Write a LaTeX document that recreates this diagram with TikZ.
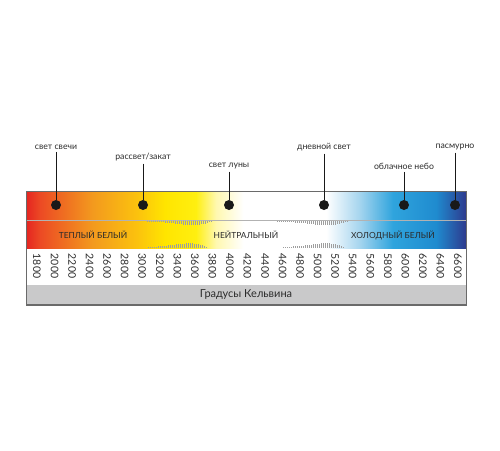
\documentclass[tikz,border=0pt]{standalone}
\usepackage{fontspec}
\setmainfont{Lato}
\definecolor{k1}{HTML}{E52421}
\definecolor{k2}{HTML}{EC4A24}
\definecolor{k3}{HTML}{F39A1E}
\definecolor{k4}{HTML}{FBC10E}
\definecolor{k5}{HTML}{FFE500}
\definecolor{k6}{HTML}{FFEF10}
\definecolor{k7}{HTML}{FFF8B0}
\definecolor{k8}{HTML}{FFFFFF}
\definecolor{k9}{HTML}{A8D6EF}
\definecolor{k10}{HTML}{2FA4DD}
\definecolor{k11}{HTML}{1F8BCF}
\definecolor{k12}{HTML}{2E3A8E}
\definecolor{txt}{HTML}{2B2B2B}
\definecolor{band}{HTML}{C9C9CA}
\definecolor{frame}{HTML}{6A6A6A}
\pgfdeclarehorizontalshading{kelvin}{100bp}{color(0bp)=(k1); color(25bp)=(k1); color(26.6bp)=(k2); color(32.6bp)=(k3); color(37.5bp)=(k4); color(40.8bp)=(k5); color(44.3bp)=(k6); color(46.6bp)=(k7); color(49.7bp)=(k8); color(59.1bp)=(k8); color(62.8bp)=(k9); color(66.7bp)=(k10); color(71.6bp)=(k11); color(75bp)=(k12); color(100bp)=(k12)}
\begin{document}
\begin{tikzpicture}[x=1pt,y=-1pt,
  lbl/.style={font=\fontsize{8.7}{9}\selectfont, text=txt, inner sep=2.5pt},
  dotm/.style={circle, fill=black!90, minimum size=10pt, inner sep=0pt},
  conn/.style={draw=black!90, line width=0.8pt},
  zone/.style={font=\fontsize{8.4}{9}\selectfont, text=txt, inner sep=1pt},
  num/.style={font=\fontsize{10.5}{11}\selectfont, text=txt, rotate=-90, inner sep=0pt},
  tick/.style={draw=black!38, line width=0.35pt}]
\useasboundingbox (0,0) rectangle (500,450);
% gradient bar
\shade[shading=kelvin] (26,191) rectangle (466,248);
\draw[black!30, line width=0.5pt] (26,220) -- (466,220);
% hatch ticks
\foreach \a/\b/\y/\s in {147/212/221/1, 148/207/247.5/-1, 277/347/221/1, 283/343/247.5/-1}{
  \pgfmathtruncatemacro\nn{(\b-\a)/2}
  \foreach \k in {0,...,\nn}{
    \pgfmathsetmacro\tt{\k/\nn}
    \pgfmathsetmacro\xx{\a+2*\k}
    \pgfmathsetmacro\ll{\s*(0.8+3.4*sin(180*\tt*\tt))}
    \draw[tick] (\xx,\y) -- ++(0,\ll);}}
% zone names
\node[zone] (z1) at (93,235) {ТЕПЛЫЙ БЕЛЫЙ};
\node[zone] (z2) at (246,235) {НЕЙТРАЛЬНЫЙ};
\node[zone] (z3) at (393,235) {ХОЛОДНЫЙ БЕЛЫЙ};
% grey band
\fill[band] (26,285) rectangle (466,304);
\node[font=\fontsize{11}{12}\selectfont, text=txt] (deg) at (246,294.5) {Градусы Кельвина};
% frame
\draw[frame, line width=0.8pt] (26,191) rectangle (466,305);
\draw[frame, line width=1.6pt] (26,304.5) -- (466,304.5);
% numbers
\foreach \i in {0,...,24}{
  \pgfmathtruncatemacro\vv{1800+200*\i}
  \pgfmathsetmacro\xx{37+17.54*\i}
  \node[num] (n\i) at (\xx,266) {\vv};}
% labels, dots, connectors
\node[lbl] (l1) at (56,147) {свет свечи};
\node[lbl] (l2) at (143,157) {рассвет/закат};
\node[lbl] (l3) at (229,166) {свет луны};
\node[lbl] (l4) at (324,147) {дневной свет};
\node[lbl] (l5) at (404,166) {облачное небо};
\node[lbl] (l6) at (455,147) {пасмурно};
\node[dotm] (d1) at (56,205) {};
\node[dotm] (d2) at (143,205) {};
\node[dotm] (d3) at (229,205) {};
\node[dotm] (d4) at (324,205) {};
\node[dotm] (d5) at (404,205) {};
\node[dotm] (d6) at (455,205) {};
\foreach \j in {1,...,6}{\draw[conn] (l\j.south) -- (d\j);}
\end{tikzpicture}
\end{document}
